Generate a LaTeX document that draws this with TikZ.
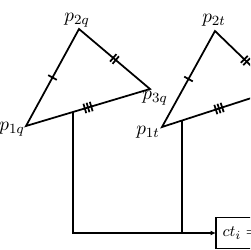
\documentclass[tikz,border=0pt]{standalone}
\usetikzlibrary{arrows.meta,decorations.markings}
\tikzset{
  tri diagram/.style={
    draw=black, line width=1pt, line join=miter,
    x=0.02cm, y=-0.02cm,
    >={Latex[length=0.11cm,width=0.1cm]},
    every node/.style={font=\fontsize{11}{13}\selectfont,
      text=black, inner sep=0pt, outer sep=0pt}
  },
  tri ticks/.style={postaction={decorate,decoration={markings,
    mark=at position 0.5 with {
      \foreach \k in {1,...,#1} {
        \pgfmathsetmacro\tickoff{(\k-(#1+1)/2)*1.9}
        \draw[line width=1pt] (\tickoff pt,-2.8pt) -- (\tickoff pt,2.8pt);
      }}}}},
  tri result/.style={draw, line width=1pt, anchor=west,
    minimum height=0.62cm, text width=1.4cm, align=left,
    inner xsep=0.13cm, font=\fontsize{9.5}{11}\selectfont}
}

\begin{document}
\begin{tikzpicture}[tri diagram]
    \useasboundingbox (0,0) rectangle (250,250);
    \clip (0,0) rectangle (250,250);
    \coordinate (p1q) at (26,126);
    \coordinate (p2q) at (79,29);
    \coordinate (p3q) at (150,89);
    \coordinate (p1t) at (162,127);
    \coordinate (p2t) at (215,31);
    \coordinate (p3t) at (276,90);
    \foreach \s in {q,t} {
      \draw (p1\s) -- (p2\s) -- (p3\s) -- cycle;
      \path[tri ticks=1] (p1\s) -- (p2\s);
      \path[tri ticks=2] (p2\s) -- (p3\s);
      \path[tri ticks=3] (p3\s) -- (p1\s);
    }
    \node (l1q) at (12,129) {$p_{1q}$};
    \node (l2q) at (77,20) {$p_{2q}$};
    \node (l3q) at (155,98) {$p_{3q}$};
    \node (l1t) at (148,132) {$p_{1t}$};
    \node (l2t) at (214,20) {$p_{2t}$};
    \path (p1q) -- (p3q) coordinate[pos=0.379] (fq);
    \path (p1t) -- (p3t) coordinate[pos=0.175] (ft);
    \node[tri result] (ct) at (216,233) {$ct_i =$};
    \draw[->] (fq) |- (ct.west);
    \draw (ft) -- (ft |- ct.west);
\end{tikzpicture}
\end{document}
